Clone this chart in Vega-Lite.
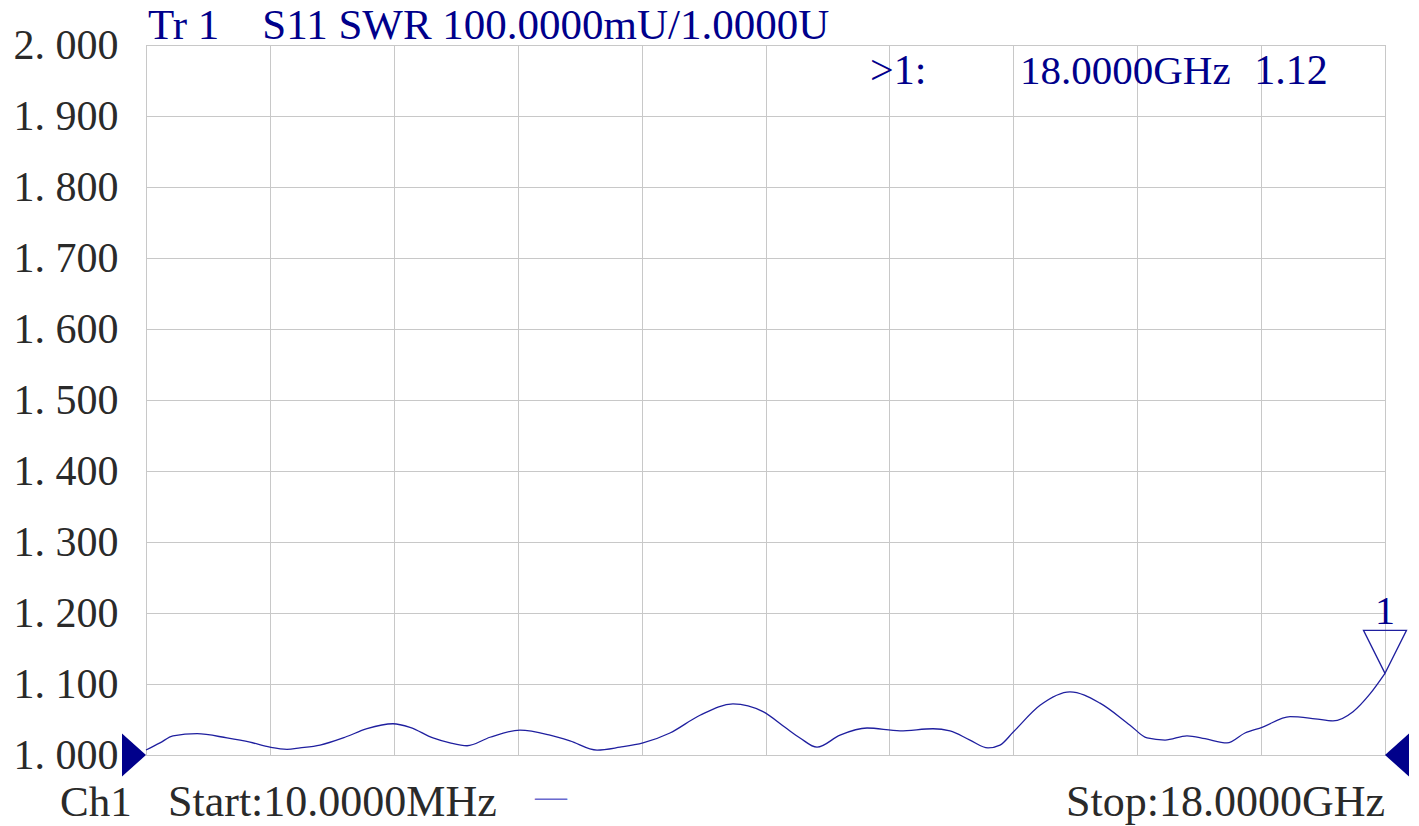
{
  "$schema": "https://vega.github.io/schema/vega-lite/v6.json",
  "width": 1239,
  "height": 710,
  "autosize": {"type": "none"},
  "padding": {"left": 146, "top": 45, "right": 34, "bottom": 71},
  "background": "white",
  "config": {
    "view": {"stroke": "#b0b0b0", "strokeWidth": 1},
    "text": {"font": "Liberation Serif"}
  },
  "datasets": {
    "trace": [
      {"f": 0.01, "swr": 1.007}, {"f": 0.213, "swr": 1.017}, {"f": 0.402, "swr": 1.027},
      {"f": 0.751, "swr": 1.030}, {"f": 1.186, "swr": 1.024}, {"f": 1.520, "swr": 1.018},
      {"f": 1.810, "swr": 1.011}, {"f": 2.057, "swr": 1.008}, {"f": 2.246, "swr": 1.010},
      {"f": 2.537, "swr": 1.014}, {"f": 2.899, "swr": 1.025}, {"f": 3.219, "swr": 1.037},
      {"f": 3.596, "swr": 1.044}, {"f": 3.843, "swr": 1.039}, {"f": 4.177, "swr": 1.024},
      {"f": 4.424, "swr": 1.017}, {"f": 4.671, "swr": 1.013}, {"f": 5.005, "swr": 1.025},
      {"f": 5.440, "swr": 1.035}, {"f": 5.876, "swr": 1.028}, {"f": 6.166, "swr": 1.020},
      {"f": 6.559, "swr": 1.007}, {"f": 6.892, "swr": 1.011}, {"f": 7.226, "swr": 1.017},
      {"f": 7.618, "swr": 1.031}, {"f": 8.054, "swr": 1.056}, {"f": 8.533, "swr": 1.072},
      {"f": 8.969, "swr": 1.061}, {"f": 9.288, "swr": 1.039}, {"f": 9.506, "swr": 1.024},
      {"f": 9.753, "swr": 1.011}, {"f": 10.087, "swr": 1.028}, {"f": 10.479, "swr": 1.038},
      {"f": 10.958, "swr": 1.034}, {"f": 11.437, "swr": 1.037}, {"f": 11.684, "swr": 1.034},
      {"f": 11.974, "swr": 1.021}, {"f": 12.236, "swr": 1.010}, {"f": 12.410, "swr": 1.014},
      {"f": 12.599, "swr": 1.032}, {"f": 12.991, "swr": 1.070}, {"f": 13.426, "swr": 1.089},
      {"f": 13.862, "swr": 1.073}, {"f": 14.298, "swr": 1.042}, {"f": 14.545, "swr": 1.024},
      {"f": 14.806, "swr": 1.021}, {"f": 15.125, "swr": 1.027}, {"f": 15.387, "swr": 1.023},
      {"f": 15.706, "swr": 1.017}, {"f": 15.967, "swr": 1.031}, {"f": 16.214, "swr": 1.039},
      {"f": 16.621, "swr": 1.054}, {"f": 16.984, "swr": 1.051}, {"f": 17.245, "swr": 1.048},
      {"f": 17.536, "swr": 1.061}, {"f": 17.782, "swr": 1.086}, {"f": 18.0, "swr": 1.115}
    ]
  },
  "data": {"name": "trace"},
  "layer": [
    {
      "mark": {"type": "line", "color": "#1f1f9f", "strokeWidth": 1.3, "interpolate": "monotone"},
      "encoding": {
        "x": {
          "field": "f", "type": "quantitative",
          "scale": {"domain": [0.01, 18], "nice": false, "zero": false},
          "axis": {
            "title": null, "labels": false, "ticks": false, "domain": false,
            "grid": true, "gridColor": "#c8c8c8", "gridWidth": 1,
            "values": [0.01, 1.809, 3.608, 5.407, 7.206, 9.005, 10.804, 12.603, 14.402, 16.201, 18.0]
          }
        },
        "y": {
          "field": "swr", "type": "quantitative",
          "scale": {"domain": [1, 2], "nice": false, "zero": false},
          "axis": {
            "title": null, "ticks": false, "domain": false,
            "grid": true, "gridColor": "#c8c8c8", "gridWidth": 1,
            "values": [1.0, 1.1, 1.2, 1.3, 1.4, 1.5, 1.6, 1.7, 1.8, 1.9, 2.0],
            "labelExpr": "replace(format(datum.value, '.3f'), '.', '. ')",
            "labelFont": "Liberation Serif", "labelFontSize": 42, "labelColor": "#2a2a2a",
            "labelPadding": 28, "labelFlush": false, "labelOverlap": false
          }
        }
      }
    },
    {
      "data": {"values": [{"t": "Tr 1\u00a0\u00a0\u00a0 S11 SWR 100.0000mU/1.0000U"}]},
      "mark": {"type": "text", "align": "left", "baseline": "alphabetic", "fontSize": 43, "color": "#00008b", "dx": 2, "dy": -6},
      "encoding": {"x": {"datum": 0.01, "type": "quantitative"}, "y": {"datum": 2.0, "type": "quantitative"}, "text": {"field": "t"}}
    },
    {
      "data": {"values": [{"t": ">1:"}]},
      "mark": {"type": "text", "align": "left", "baseline": "alphabetic", "fontSize": 42, "color": "#00008b", "dy": 39},
      "encoding": {"x": {"datum": 10.522, "type": "quantitative"}, "y": {"datum": 2.0, "type": "quantitative"}, "text": {"field": "t"}}
    },
    {
      "data": {"values": [{"t": "18.0000GHz"}]},
      "mark": {"type": "text", "align": "left", "baseline": "alphabetic", "fontSize": 41, "color": "#00008b", "dy": 39},
      "encoding": {"x": {"datum": 12.7, "type": "quantitative"}, "y": {"datum": 2.0, "type": "quantitative"}, "text": {"field": "t"}}
    },
    {
      "data": {"values": [{"t": "1.12"}]},
      "mark": {"type": "text", "align": "left", "baseline": "alphabetic", "fontSize": 42, "color": "#00008b", "dy": 39},
      "encoding": {"x": {"datum": 16.1, "type": "quantitative"}, "y": {"datum": 2.0, "type": "quantitative"}, "text": {"field": "t"}}
    },
    {
      "data": {"values": [{"t": "Ch1"}]},
      "mark": {"type": "text", "align": "left", "baseline": "alphabetic", "fontSize": 43, "color": "#2a2a2a", "dx": -86, "dy": 61},
      "encoding": {"x": {"datum": 0.01, "type": "quantitative"}, "y": {"datum": 1.0, "type": "quantitative"}, "text": {"field": "t"}}
    },
    {
      "data": {"values": [{"t": "Start:10.0000MHz"}]},
      "mark": {"type": "text", "align": "left", "baseline": "alphabetic", "fontSize": 44, "color": "#2a2a2a", "dx": 22, "dy": 61},
      "encoding": {"x": {"datum": 0.01, "type": "quantitative"}, "y": {"datum": 1.0, "type": "quantitative"}, "text": {"field": "t"}}
    },
    {
      "data": {"values": [{"t": "—"}]},
      "mark": {"type": "text", "align": "left", "baseline": "alphabetic", "fontSize": 32, "color": "#6a6acf", "dy": 52},
      "encoding": {"x": {"datum": 5.658, "type": "quantitative"}, "y": {"datum": 1.0, "type": "quantitative"}, "text": {"field": "t"}}
    },
    {
      "data": {"values": [{"t": "Stop:18.0000GHz"}]},
      "mark": {"type": "text", "align": "right", "baseline": "alphabetic", "fontSize": 44, "color": "#2a2a2a", "dy": 61},
      "encoding": {"x": {"datum": 18.0, "type": "quantitative"}, "y": {"datum": 1.0, "type": "quantitative"}, "text": {"field": "t"}}
    },
    {
      "data": {"values": [{"side": "start"}]},
      "mark": {"type": "point", "shape": "M0,0 L-1.067,-0.956 L-1.067,0.956 Z", "size": 2025, "filled": true, "color": "#00008b", "opacity": 1, "strokeWidth": 0},
      "encoding": {"x": {"datum": 0.01, "type": "quantitative"}, "y": {"datum": 1.0, "type": "quantitative"}}
    },
    {
      "data": {"values": [{"side": "stop"}]},
      "mark": {"type": "point", "shape": "M0,0 L1.067,-0.956 L1.067,0.956 Z", "size": 2025, "filled": true, "color": "#00008b", "opacity": 1, "strokeWidth": 0},
      "encoding": {"x": {"datum": 18.0, "type": "quantitative"}, "y": {"datum": 1.0, "type": "quantitative"}}
    },
    {
      "data": {"values": [{"marker": "1"}]},
      "mark": {"type": "point", "shape": "M0,0 L-0.956,-1.911 L0.956,-1.911 Z", "size": 2025, "filled": false, "color": "#1f1f9f", "opacity": 1, "strokeWidth": 1.3},
      "encoding": {"x": {"datum": 18.0, "type": "quantitative"}, "y": {"datum": 1.115, "type": "quantitative"}}
    },
    {
      "data": {"values": [{"marker": "1"}]},
      "mark": {"type": "text", "align": "center", "baseline": "alphabetic", "fontSize": 40, "color": "#00008b", "dy": -49},
      "encoding": {"x": {"datum": 18.0, "type": "quantitative"}, "y": {"datum": 1.115, "type": "quantitative"}, "text": {"field": "marker"}}
    }
  ]
}
